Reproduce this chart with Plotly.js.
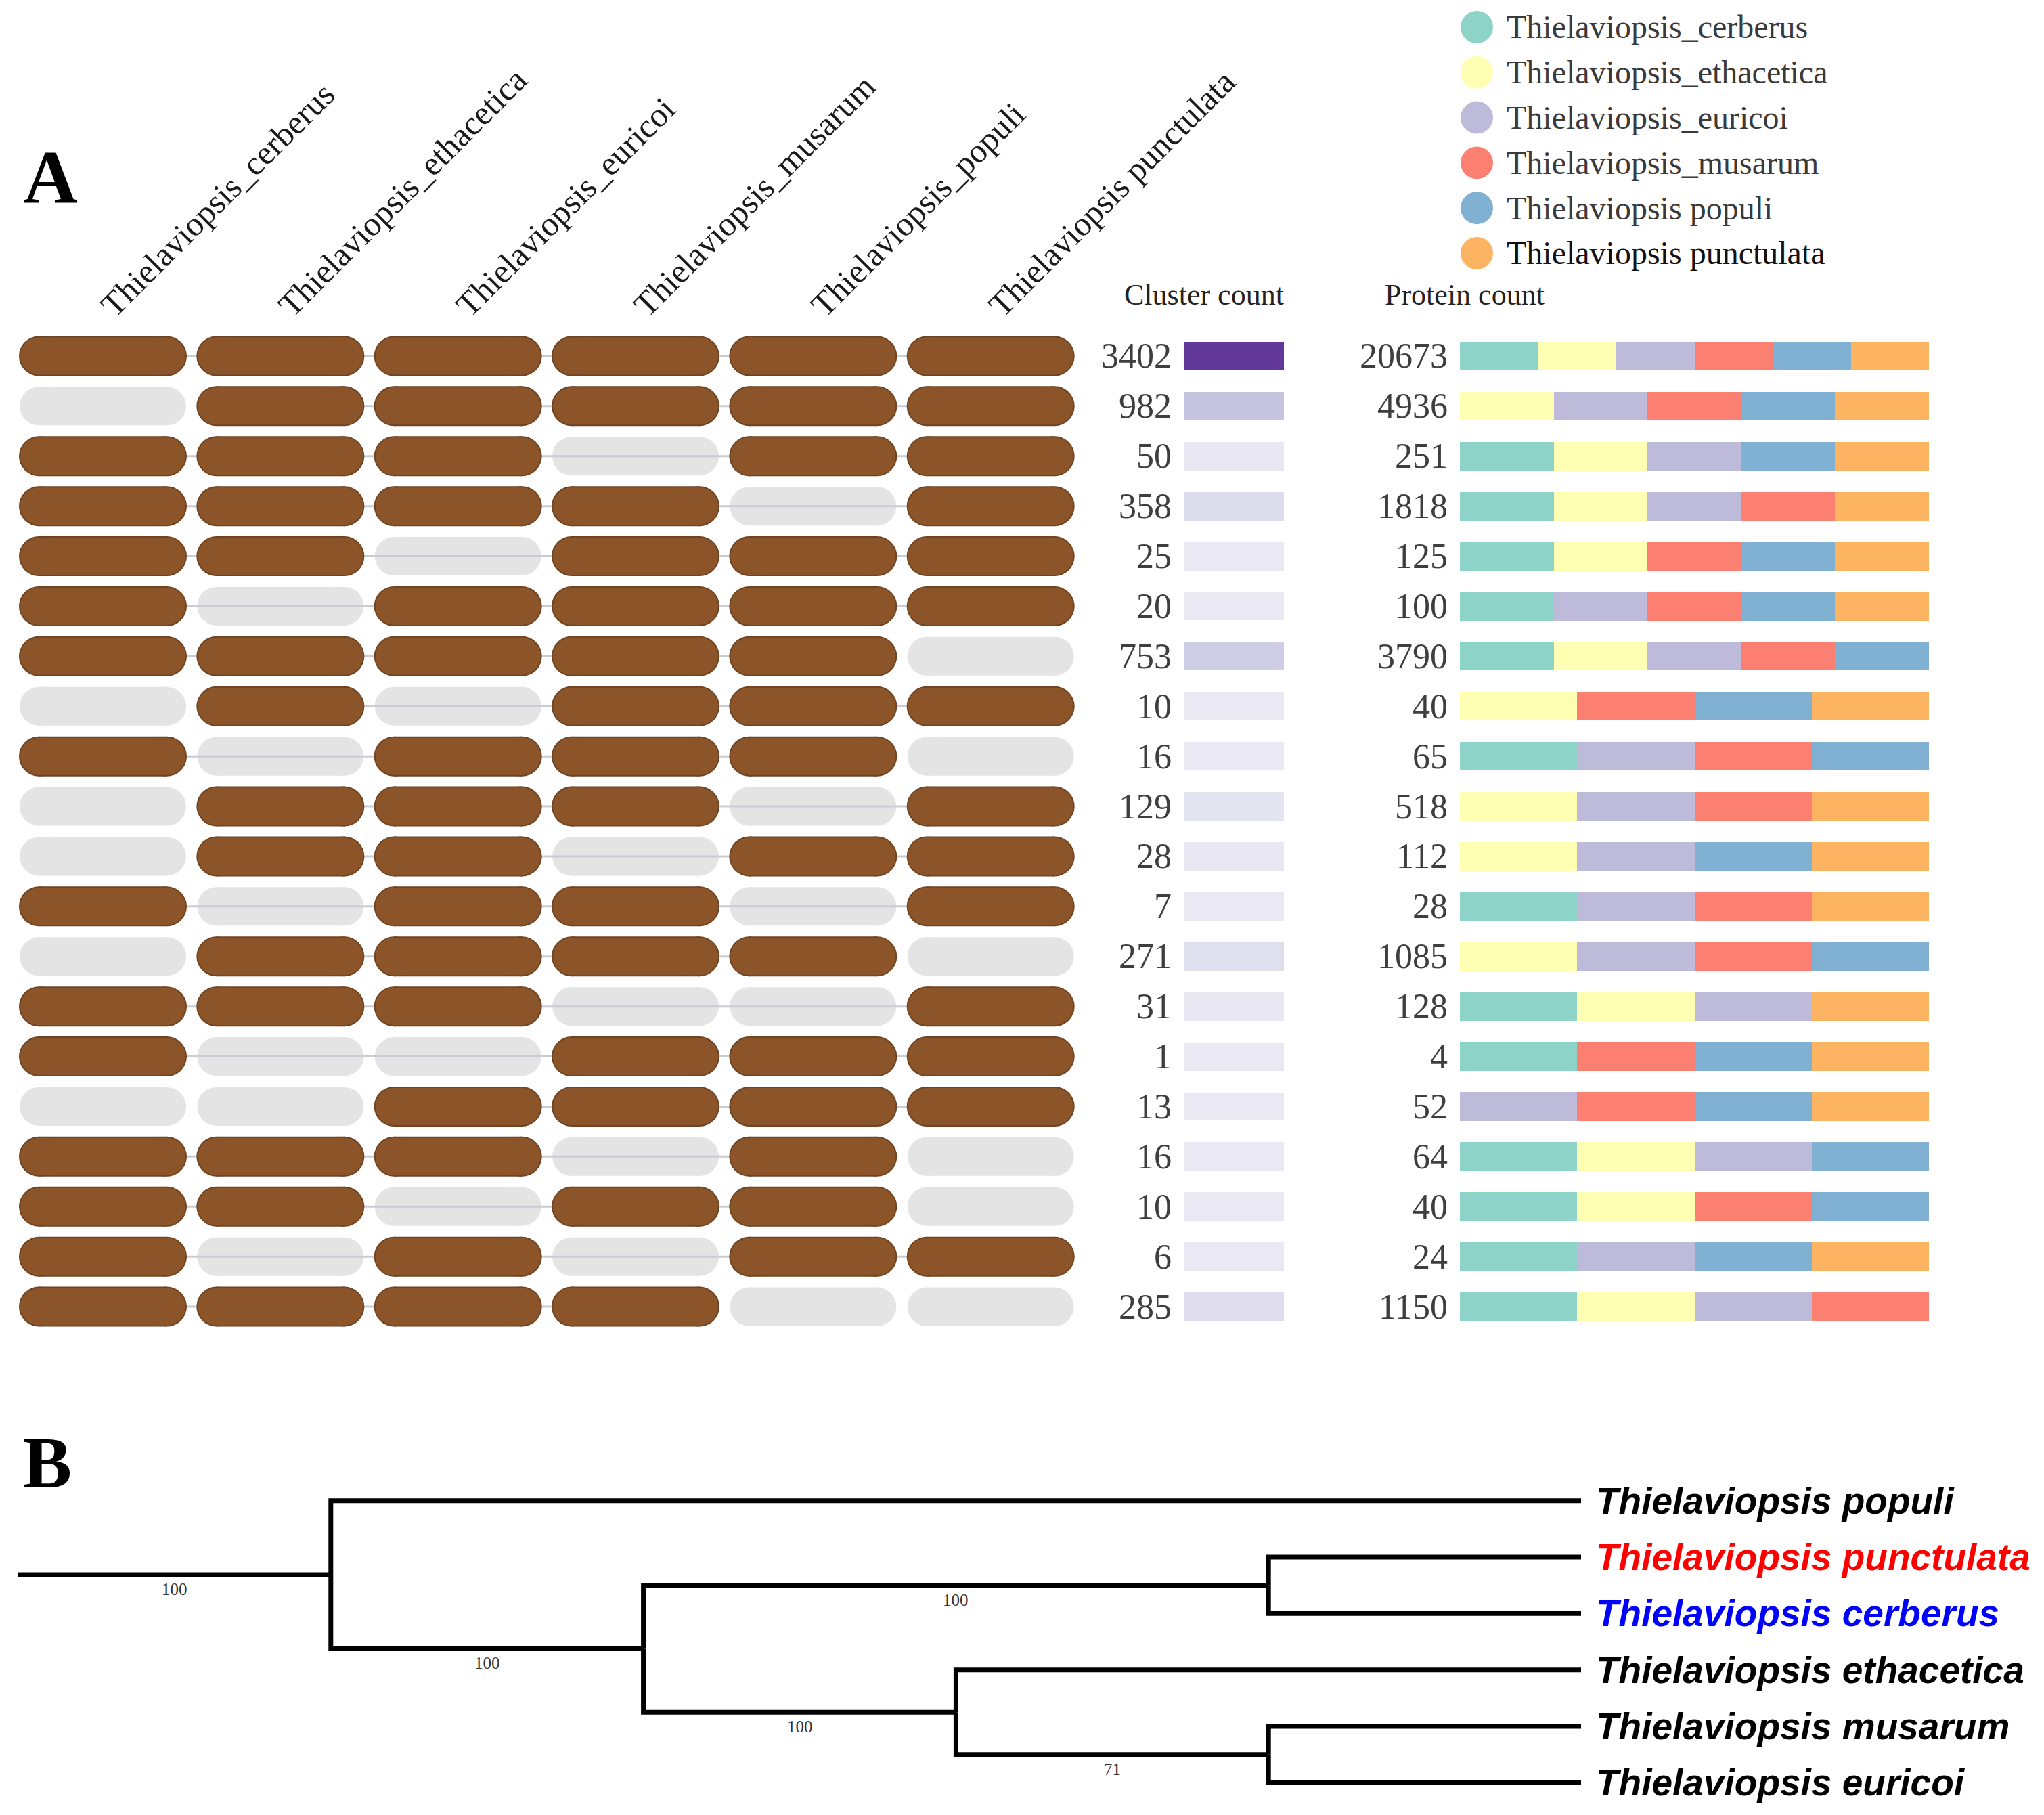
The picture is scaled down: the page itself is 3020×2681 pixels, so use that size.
<!DOCTYPE html>
<html><head><meta charset="utf-8">
<script src="https://cdn.plot.ly/plotly-3.0.1.min.js"></script>
<style>html,body{margin:0;padding:0;background:#fff;}</style>
</head><body><div id="chart" style="width:3020px;height:2681px;"></div>
<script>
// ---------------- DATA ----------------
const columnLabels = ['Thielaviopsis_cerberus','Thielaviopsis_ethacetica','Thielaviopsis_euricoi','Thielaviopsis_musarum','Thielaviopsis_populi','Thielaviopsis punctulata'];
const legendLabels = ['Thielaviopsis_cerberus','Thielaviopsis_ethacetica','Thielaviopsis_euricoi','Thielaviopsis_musarum','Thielaviopsis populi','Thielaviopsis punctulata'];
const speciesColors = ['#8dd3c7','#ffffb3','#bebada','#fb8072','#80b1d3','#fdb462'];
const clusterCounts = [3402,982,50,358,25,20,753,10,16,129,28,7,271,31,1,13,16,10,6,285];
const proteinCounts = [20673,4936,251,1818,125,100,3790,40,65,518,112,28,1085,128,4,52,64,40,24,1150];
// presence (1) / absence (0) of each species in each cluster set, rows top to bottom
const presCerberus   = [1,0,1,1,1,1,1,0,1,0,0,1,0,1,1,0,1,1,1,1];
const presEthacetica = [1,1,1,1,1,0,1,1,0,1,1,0,1,1,0,0,1,1,0,1];
const presEuricoi    = [1,1,1,1,0,1,1,0,1,1,1,1,1,1,0,1,1,0,1,1];
const presMusarum    = [1,1,0,1,1,1,1,1,1,1,0,1,1,0,1,1,0,1,0,1];
const presPopuli     = [1,1,1,0,1,1,1,1,1,0,1,0,1,0,1,1,1,1,1,0];
const presPunctulata = [1,1,1,1,1,1,0,1,0,1,1,1,0,1,1,1,0,0,1,0];
// share (%) of each species in the protein count bar
const shareCerberus   = [16.67,0,20,20,20,20,20,0,25,0,0,25,0,25,25,0,25,25,25,25];
const shareEthacetica = [16.67,20,20,20,20,0,20,25,0,25,25,0,25,25,0,0,25,25,0,25];
const shareEuricoi    = [16.67,20,20,20,0,20,20,0,25,25,25,25,25,25,0,25,25,0,25,25];
const shareMusarum    = [16.67,20,0,20,20,20,20,25,25,25,0,25,25,0,25,25,0,25,0,25];
const sharePopuli     = [16.66,20,20,0,20,20,20,25,25,0,25,0,25,0,25,25,25,25,25,0];
const sharePunctulata = [16.66,20,20,20,20,20,0,25,0,25,25,25,0,25,25,25,0,0,25,0];
// phylogeny (panel B)
const treeNodes   = ['root','n1','n2','n3','n4','n5','populi','punctulata','cerberus','ethacetica','musarum','euricoi'];
const treeParents = ['','root','n1','n2','n2','n4','n1','n3','n3','n4','n5','n5'];
const treeDepth   = [0,1,2,4,3,4,5,5,5,5,5,5];
const tipNodes    = ['populi','punctulata','cerberus','ethacetica','musarum','euricoi'];
const tipLabels   = ['Thielaviopsis populi','Thielaviopsis punctulata','Thielaviopsis cerberus','Thielaviopsis ethacetica','Thielaviopsis musarum','Thielaviopsis euricoi'];
const tipColors   = ['#000000','#ff0000','#0000ff','#000000','#000000','#000000'];
const supportNodes  = ['n1','n2','n3','n4','n5'];
const supportValues = [100,100,100,100,71];

// ---------------- LAYOUT GEOMETRY ----------------
const W = 3020, H = 2681;
const px = v => v / W, py = v => 1 - v / H;
const serif = 'Liberation Serif, Times New Roman, serif';
const nRows = clusterCounts.length;
const rows = clusterCounts.map((_, i) => i);
const gridRange = [-0.55, 5.55];
const gridDom = [px(7.7), px(1608)];
const rowDom = [py(1967), py(489)];
const pxPerCol = (gridDom[1] - gridDom[0]) * W / (gridRange[1] - gridRange[0]);
const pillW = 246, pillH = 57;
const half = (pillW - pillH) / 2 / pxPerCol;

const pres = [presCerberus, presEthacetica, presEuricoi, presMusarum, presPopuli, presPunctulata];
const shares = [shareCerberus, shareEthacetica, shareEuricoi, shareMusarum, sharePopuli, sharePunctulata];

let gX = [], gY = [], bX = [], bY = [], cX = [], cY = [];
rows.forEach(r => {
  let first = -1, last = -1;
  pres.forEach((p, c) => {
    if (p[r]) { bX.push(c - half, c + half, null); bY.push(r, r, null); if (first < 0) first = c; last = c; }
    else { gX.push(c - half, c + half, null); gY.push(r, r, null); }
  });
  if (last > first) { cX.push(first, last, null); cY.push(r, r, null); }
});

const traces = [];
traces.push({type:'scatter', mode:'lines+markers', x:gX, y:gY, xaxis:'x', yaxis:'y',
  line:{color:'#e4e4e4', width:pillH}, marker:{color:'#e4e4e4', size:pillH}, showlegend:false, hoverinfo:'skip'});
traces.push({type:'scatter', mode:'lines', x:cX, y:cY, xaxis:'x', yaxis:'y',
  line:{color:'#c9cdd3', width:3}, showlegend:false, hoverinfo:'skip'});
traces.push({type:'scatter', mode:'lines+markers', x:bX, y:bY, xaxis:'x', yaxis:'y',
  line:{color:'#6e4424', width:pillH+2}, marker:{color:'#6e4424', size:pillH+2}, showlegend:false, hoverinfo:'skip'});
traces.push({type:'scatter', mode:'lines+markers', x:bX, y:bY, xaxis:'x', yaxis:'y',
  line:{color:'#8b5529', width:pillH-2}, marker:{color:'#8b5529', size:pillH-2}, showlegend:false, hoverinfo:'skip'});

// cluster count heat cells
traces.push({type:'heatmap', x:[0], y:rows, z:clusterCounts.map(v => [v]), xaxis:'x2', yaxis:'y',
  zmin:0, zmax:Math.max(...clusterCounts), showscale:false, ygap:32, hoverinfo:'skip',
  colorscale:[[0,'#eae9f3'],[0.3,'#c5c3e0'],[1,'#62399b']]});

// protein count stacked bars
shares.forEach((s, i) => traces.push({type:'bar', orientation:'h', x:s, y:rows, xaxis:'x3', yaxis:'y',
  marker:{color:speciesColors[i], line:{width:0}}, width:0.57, showlegend:false, hoverinfo:'skip'}));

// legend circles
traces.push({type:'scatter', mode:'markers', x:legendLabels.map(() => 0), y:legendLabels.map((_, i) => i),
  xaxis:'x4', yaxis:'y4', marker:{color:speciesColors, size:48}, showlegend:false, hoverinfo:'skip', cliponaxis:false});

// tree
const nodeIdx = {}; treeNodes.forEach((n, i) => nodeIdx[n] = i);
const nodeY = {};
tipNodes.forEach((n, i) => nodeY[n] = i + 1);
function yOf(n) {
  if (nodeY[n] !== undefined) return nodeY[n];
  const kids = treeNodes.filter((m, i) => treeParents[i] === n);
  const v = kids.reduce((a, k) => a + yOf(k), 0) / kids.length;
  nodeY[n] = v; return v;
}
treeNodes.forEach(n => { if (n !== 'root') yOf(n); });
nodeY['root'] = nodeY['n1'];
let tX = [], tY = [];
treeNodes.forEach((n, i) => {
  const p = treeParents[i]; if (!p) return;
  const px0 = treeDepth[nodeIdx[p]], py0 = nodeY[p];
  tX.push(px0, px0, treeDepth[i], null); tY.push(py0, nodeY[n], nodeY[n], null);
});
traces.push({type:'scatter', mode:'lines', x:tX, y:tY, xaxis:'x5', yaxis:'y5',
  line:{color:'#000', width:7}, showlegend:false, hoverinfo:'skip', cliponaxis:false});

// ---------------- ANNOTATIONS ----------------
const ann = [];
const numFont = {family:serif, size:52, color:'#3e3e3e'};
clusterCounts.forEach((v, r) => ann.push({xref:'x2', yref:'y', x:-0.5, y:r, xanchor:'right', yanchor:'middle', xshift:-16,
  text:String(v), showarrow:false, font:numFont}));
proteinCounts.forEach((v, r) => ann.push({xref:'x3', yref:'y', x:0, y:r, xanchor:'right', yanchor:'middle', xshift:-16,
  text:String(v), showarrow:false, font:numFont}));
ann.push({xref:'paper', yref:'paper', x:px(1779), y:py(435), xanchor:'center', yanchor:'middle', text:'Cluster count',
  showarrow:false, font:{family:serif, size:44, color:'#222'}});
ann.push({xref:'paper', yref:'paper', x:px(2164), y:py(435), xanchor:'center', yanchor:'middle', text:'Protein count',
  showarrow:false, font:{family:serif, size:44, color:'#222'}});
ann.push({xref:'paper', yref:'paper', x:px(32), y:py(262), xanchor:'left', yanchor:'middle', text:'A',
  showarrow:false, font:{family:serif, size:112, color:'#000', weight:'bold'}});
ann.push({xref:'paper', yref:'paper', x:px(32), y:py(2160), xanchor:'left', yanchor:'middle', text:'B',
  showarrow:false, font:{family:serif, size:108, color:'#000', weight:'bold'}});
legendLabels.forEach((t, i) => ann.push({xref:'paper', yref:'y4', x:px(2224), y:i, xanchor:'left', yanchor:'middle',
  text:t, showarrow:false, font:{family:serif, size:48, color: i === 5 ? '#111' : '#3a3a3a'}}));
tipNodes.forEach((n, i) => ann.push({xref:'x5', yref:'y5', x:treeDepth[nodeIdx[n]], y:nodeY[n], xanchor:'left', yanchor:'middle',
  xshift:20, text:tipLabels[i], showarrow:false,
  font:{family:'Liberation Sans, Arial, sans-serif', size:55, color:tipColors[i], weight:'bold', style:'italic'}}));
supportNodes.forEach((n, i) => {
  const k = nodeIdx[n], p = nodeIdx[treeParents[k]];
  ann.push({xref:'x5', yref:'y5', x:(treeDepth[k] + treeDepth[p]) / 2, y:nodeY[n], xanchor:'center', yanchor:'top',
    yshift:-6, text:String(supportValues[i]), showarrow:false, font:{family:serif, size:25, color:'#333'}});
});

// ---------------- AXES ----------------
const hid = {visible:false, showgrid:false, zeroline:false, fixedrange:true};
const layout = {
  width:W, height:H, margin:{l:0, r:0, t:0, b:0}, autosize:false,
  paper_bgcolor:'#fff', plot_bgcolor:'rgba(0,0,0,0)', hovermode:false, barmode:'stack', showlegend:false,
  xaxis:{domain:gridDom, range:gridRange, anchor:'y', side:'top', tickmode:'array', tickvals:[0,1,2,3,4,5],
    ticktext:columnLabels, tickangle:-45, ticks:'', showline:false, showgrid:false, zeroline:false,
    tickfont:{family:serif, size:50, color:'#1a1a1a'}},
  yaxis:Object.assign({}, hid, {domain:rowDom, range:[nRows - 0.5, -0.5], anchor:'x'}),
  xaxis2:Object.assign({}, hid, {domain:[px(1749), px(1897)], range:[-0.5, 0.5], anchor:'y'}),
  xaxis3:Object.assign({}, hid, {domain:[px(2157), px(2850)], range:[0, 100], anchor:'y'}),
  xaxis4:Object.assign({}, hid, {domain:[px(2157), px(2207)], range:[-0.5, 0.5], anchor:'y4'}),
  yaxis4:Object.assign({}, hid, {domain:[py(407.4), py(6.6)], range:[5.5, -0.5], anchor:'x4'}),
  xaxis5:Object.assign({}, hid, {domain:[px(27), px(2336)], range:[0, 5], anchor:'y5'}),
  yaxis5:Object.assign({}, hid, {domain:[py(2675), py(2175)], range:[6.5, 0.5], anchor:'x5'}),
  annotations:ann
};
Plotly.newPlot('chart', traces, layout, {staticPlot:true, displayModeBar:false});
</script></body></html>
